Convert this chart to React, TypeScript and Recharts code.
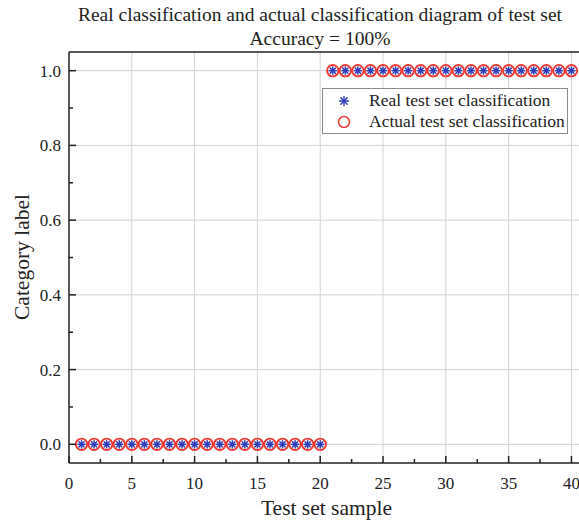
import React from 'react';
import { ScatterChart, Scatter, XAxis, YAxis, ReferenceLine } from 'recharts';

// Test-set sample indices
const sampleIndex = [
  1, 2, 3, 4, 5, 6, 7, 8, 9, 10, 11, 12, 13, 14, 15, 16, 17, 18, 19, 20,
  21, 22, 23, 24, 25, 26, 27, 28, 29, 30, 31, 32, 33, 34, 35, 36, 37, 38, 39, 40,
];

// Ground-truth class labels
const realClass = [
  0, 0, 0, 0, 0, 0, 0, 0, 0, 0, 0, 0, 0, 0, 0, 0, 0, 0, 0, 0,
  1, 1, 1, 1, 1, 1, 1, 1, 1, 1, 1, 1, 1, 1, 1, 1, 1, 1, 1, 1,
];

// Predicted class labels
const predictedClass = [
  0, 0, 0, 0, 0, 0, 0, 0, 0, 0, 0, 0, 0, 0, 0, 0, 0, 0, 0, 0,
  1, 1, 1, 1, 1, 1, 1, 1, 1, 1, 1, 1, 1, 1, 1, 1, 1, 1, 1, 1,
];

// Axis ticks (majors get labels, the rest are minor ticks)
const xTicks = [0, 2.5, 5, 7.5, 10, 12.5, 15, 17.5, 20, 22.5, 25, 27.5, 30, 32.5, 35, 37.5, 40];
const xMajor = [5, 10, 15, 20, 25, 30, 35, 40];
const yTicks = [0, 0.1, 0.2, 0.3, 0.4, 0.5, 0.6, 0.7, 0.8, 0.9, 1.0];
const yMajor = [0, 0.2, 0.4, 0.6, 0.8, 1.0];

const titleLine1 = 'Real classification and actual classification diagram of test set';
const titleLine2 = 'Accuracy = 100%';
const seriesRealName = 'Real test set classification';
const seriesActualName = 'Actual test set classification';

const realData = sampleIndex.map((x, i) => ({ x, y: realClass[i] }));
const actualData = sampleIndex.map((x, i) => ({ x, y: predictedClass[i] }));

const FONT = '"Liberation Serif", "Times New Roman", serif';
const INK = '#222';
const RED = '#ee3a33';
const BLUE = '#2f3db8';

const isMajor = (v: number, majors: number[]) => majors.some((m) => Math.abs(m - v) < 1e-9);

const XTick = (props: any) => {
  const { x, y, payload } = props;
  const major = payload.value % 5 === 0;
  return (
    <g>
      <line x1={x} y1={y} x2={x} y2={y - (major ? 7 : 4)} stroke={INK} strokeWidth={1.5} />
      {major && (
        <text x={x} y={y + 26} textAnchor="middle" fontFamily={FONT} fontSize={17} fill={INK}>
          {payload.value}
        </text>
      )}
    </g>
  );
};

const YTick = (props: any) => {
  const { x, y, payload } = props;
  const major = isMajor(payload.value, yMajor);
  return (
    <g>
      <line x1={x} y1={y} x2={x + (major ? 7 : 4)} y2={y} stroke={INK} strokeWidth={1.5} />
      {major && (
        <text x={x - 8} y={y} dy={6} textAnchor="end" fontFamily={FONT} fontSize={17} fill={INK}>
          {Number(payload.value).toFixed(1)}
        </text>
      )}
    </g>
  );
};

const Asterisk = ({ cx, cy, r = 3.6, sw = 1.5 }: { cx: number; cy: number; r?: number; sw?: number }) => {
  const d = r * 0.7071;
  return (
    <g stroke={BLUE} strokeWidth={sw} strokeLinecap="round">
      <line x1={cx - r} y1={cy} x2={cx + r} y2={cy} />
      <line x1={cx} y1={cy - r} x2={cx} y2={cy + r} />
      <line x1={cx - d} y1={cy - d} x2={cx + d} y2={cy + d} />
      <line x1={cx - d} y1={cy + d} x2={cx + d} y2={cy - d} />
    </g>
  );
};

const RingShape = (props: any) => (
  <circle cx={props.cx} cy={props.cy} r={5.7} fill="#fff" stroke={RED} strokeWidth={1.9} />
);

const StarShape = (props: any) => <Asterisk cx={props.cx} cy={props.cy} />;

const LegendBox = () => (
  <div
    style={{
      position: 'absolute',
      left: 322,
      top: 88,
      width: 246,
      height: 46,
      border: '1px solid #8a8a8a',
      background: '#fff',
      boxSizing: 'border-box',
      fontFamily: FONT,
      fontSize: 17.5,
      color: INK,
    }}
  >
    <svg width={40} height={46} style={{ position: 'absolute', left: 0, top: 0 }}>
      <Asterisk cx={21} cy={12} r={4.5} sw={1.4} />
      <circle cx={21} cy={33} r={5.5} fill="none" stroke={RED} strokeWidth={1.5} />
    </svg>
    <div style={{ position: 'absolute', left: 46, top: 1, lineHeight: '21px', whiteSpace: 'nowrap' }}>
      {seriesRealName}
    </div>
    <div style={{ position: 'absolute', left: 46, top: 22, lineHeight: '21px', whiteSpace: 'nowrap' }}>
      {seriesActualName}
    </div>
  </div>
);

export default function App() {
  return (
    <div style={{ position: 'absolute', left: 0, top: 0, width: 579, height: 521, overflow: 'hidden', background: '#fff' }}>
      <div
        style={{
          position: 'absolute',
          left: 69,
          width: 502,
          top: 3,
          textAlign: 'center',
          fontFamily: FONT,
          fontSize: 19.5,
          lineHeight: '24px',
          color: INK,
          whiteSpace: 'nowrap',
        }}
      >
        <div>{titleLine1}</div>
        <div>{titleLine2}</div>
      </div>
      <ScatterChart width={600} height={521} margin={{ top: 52, right: 16, bottom: 0, left: 0 }}>
        {xMajor.map((v) => (
          <ReferenceLine key={`gx${v}`} x={v} stroke="#d2d2d2" strokeWidth={1} />
        ))}
        {yMajor.map((v) => (
          <ReferenceLine key={`gy${v}`} y={v} stroke="#d2d2d2" strokeWidth={1} />
        ))}
        <ReferenceLine y={1.05} stroke={INK} strokeWidth={1.5} />
        <XAxis
          type="number"
          dataKey="x"
          domain={[0, 41]}
          ticks={xTicks}
          interval={0}
          allowDataOverflow
          height={58}
          tickSize={0}
          tickMargin={0}
          tickLine={false}
          axisLine={{ stroke: INK, strokeWidth: 1.5 }}
          tick={<XTick />}
          label={{
            value: 'Test set sample',
            position: 'insideBottom',
            offset: 6,
            style: { fontFamily: FONT, fontSize: 21.5, fill: INK },
          }}
        />
        <YAxis
          type="number"
          dataKey="y"
          domain={[-0.05, 1.05]}
          ticks={yTicks}
          interval={0}
          allowDataOverflow
          width={69}
          tickSize={0}
          tickMargin={0}
          tickLine={false}
          axisLine={{ stroke: INK, strokeWidth: 1.5 }}
          tick={<YTick />}
          label={{
            content: () => (
              <text
                x={22}
                y={257}
                transform="rotate(-90 22 257)"
                textAnchor="middle"
                dominantBaseline="central"
                fontFamily={FONT}
                fontSize={21.5}
                fill={INK}
              >
                Category label
              </text>
            ),
          }}
        />
        <Scatter name={seriesActualName} data={actualData} shape={<RingShape />} isAnimationActive={false} />
        <Scatter name={seriesRealName} data={realData} shape={<StarShape />} isAnimationActive={false} />
      </ScatterChart>
      <LegendBox />
    </div>
  );
}
